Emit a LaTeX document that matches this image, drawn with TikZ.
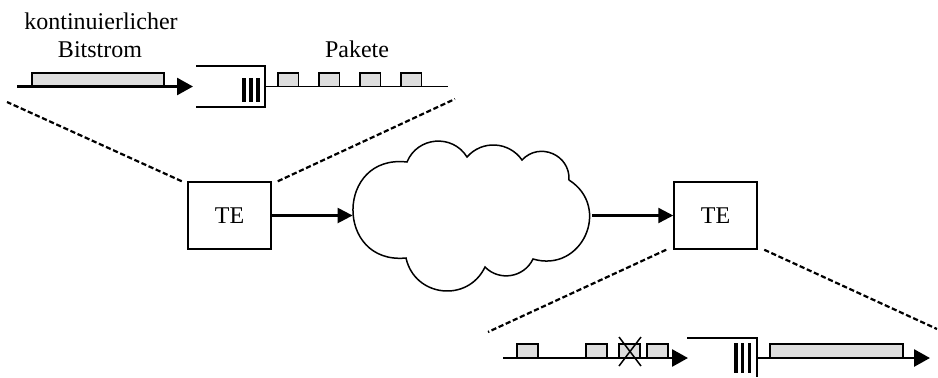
\documentclass[tikz,border=0pt]{standalone}
\usepackage{fontspec}
\setmainfont{Liberation Serif}
\usetikzlibrary{arrows.meta,scopes}

\tikzset{
  tebox/.style={draw, line width=0.75pt, minimum width=41.5pt, minimum height=33.5pt, inner sep=0pt},
  paket/.style={draw, line width=0.65pt, fill=black!13},
  strom/.style={line width=1.35pt, -{Triangle[length=8pt,width=8.5pt]}},
  netzpfeil/.style={line width=1.2pt, -{Triangle[length=7.5pt,width=7.5pt]}},
  lupe/.style={line width=1.1pt, dash pattern=on 2.6pt off 1.3pt},
  puffer/.style={line width=0.75pt},
  balken/.style={line width=1.6pt},
}

\begin{document}
\begin{tikzpicture}[x=0.5pt, y=-0.5pt, font=\fontsize{12}{14}\selectfont]
  \useasboundingbox (0,0) rectangle (938,377);

  { [inner sep=0pt, anchor=base]
    \node (kont) at (101,29) {kontinuierlicher};
    \node (bits) at (100,57) {Bitstrom};
    \node (pak) at (357,57) {Pakete};
  }

  \node[tebox] (teA) at (229.5,215.5) {TE};
  \node[tebox] (teB) at (715.5,215.5) {TE};
  \node[minimum width=119.5pt, minimum height=75pt, inner sep=0pt] (netz) at (472.5,215.5) {};

  % Wolke
  \draw[puffer] (406,258) to[bend left=96, looseness=1.91] (407,162)
    to[bend left=63, looseness=1.17] (467,157)
    to[bend left=52, looseness=1.06] (522,160)
    to[bend left=70, looseness=1.27] (569,180)
    to[bend left=82, looseness=1.5] (533,259)
    to[bend left=55, looseness=1.08] (485,267)
    to[bend left=71, looseness=1.29] (406,258) -- cycle;

  \draw[netzpfeil] (teA.east) -- (netz.west);
  \draw[netzpfeil] (netz.east) -- (teB.west);

  % Sender
  \coordinate (einA) at (17,86.5);
  \coordinate (ausA) at (193,86.5);
  \coordinate (qA) at (265,86.5);
  \coordinate (endeA) at (448,86.5);
  \draw[paket] (32,73) rectangle (164,86.5);
  \draw[strom] (einA) -- (ausA);
  \draw[puffer] (196,66) -| (265,107) -- (196,107);
  \foreach \x in {244,251,258}
    \draw[balken] (\x,78) -- (\x,102);
  \draw[puffer] (qA) -- (endeA);
  \foreach \x in {278,319,360,401}
    \draw[paket] (\x,73) rectangle ++(20.5,13.5);

  % Empfaenger
  \coordinate (einB) at (503,358);
  \coordinate (ausB) at (688,358);
  \coordinate (qB) at (757,358);
  \coordinate (endeB) at (930,358);
  \foreach \x in {517,586,619,647}
    \draw[paket] (\x,344) rectangle ++(21,14);
  \draw[strom] (einB) -- (ausB);
  \draw[puffer] (619,337) -- (641,366) (641,337) -- (619,366);
  \draw[puffer] (687,338) -- (757,338) -- (757,377);
  \foreach \x in {736,742.7,749.3}
    \draw[balken] (\x,343) -- (\x,373);
  \draw[paket] (770,344) rectangle (903,358);
  \draw[strom] (qB) -- (endeB);

  { [lupe]
    \draw (teA.north west) ++(-5.5,0) -- (7,102);
    \draw (teA.north east) ++(6,0) -- (455,99);
    \draw (teB.south west) ++(-7,0) -- (488,332);
    \draw (teB.south east) ++(6.5,0) -- (937,329);
  }
\end{tikzpicture}
\end{document}
